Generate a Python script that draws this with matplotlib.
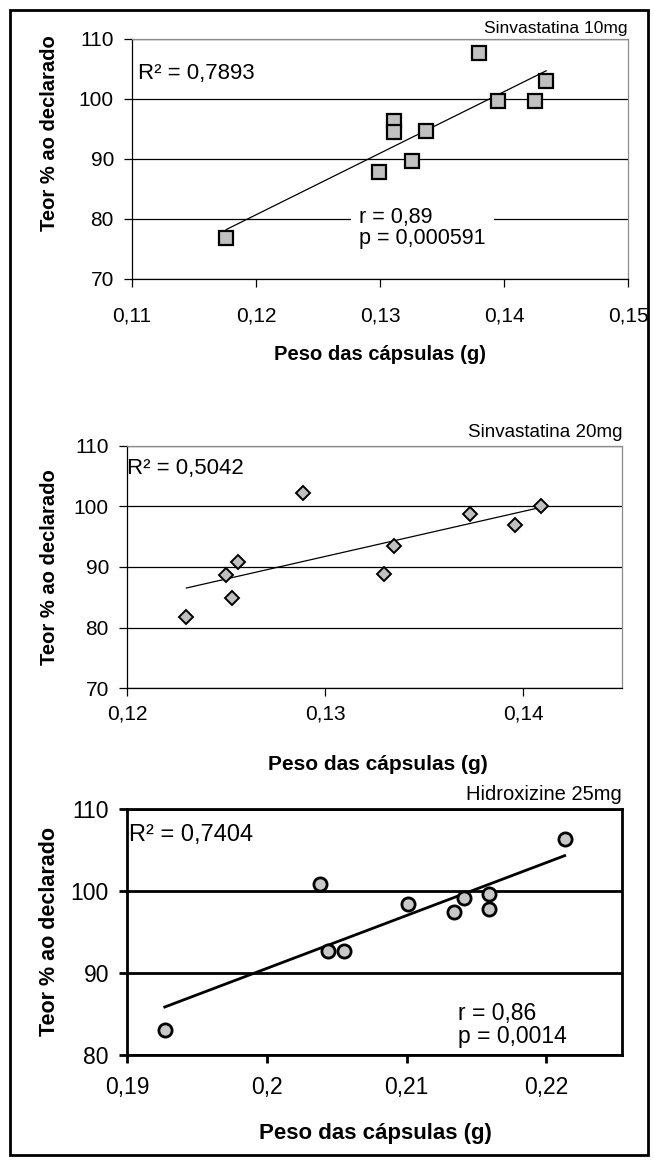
import matplotlib
matplotlib.use("Agg")
import matplotlib.pyplot as plt
import numpy as np
from matplotlib.patches import Rectangle
from matplotlib.ticker import FuncFormatter

plt.rcParams["font.family"] = ["Liberation Sans", "DejaVu Sans"]

# --- data ---
# Sinvastatina 10mg
x10 = [0.1176, 0.1299, 0.1311, 0.1311, 0.1326, 0.1337, 0.1380, 0.1395, 0.1425, 0.1434]
y10 = [76.8, 87.9, 96.3, 94.5, 89.7, 94.7, 107.7, 99.7, 99.7, 103.0]
# Sinvastatina 20mg
x20 = [0.1230, 0.1250, 0.1253, 0.1256, 0.1289, 0.1330, 0.1335, 0.1373, 0.1396, 0.1409]
y20 = [81.7, 88.6, 84.8, 90.9, 102.3, 88.9, 93.5, 98.8, 96.9, 100.0]
# Hidroxizine 25mg
xh = [0.1927, 0.2038, 0.2044, 0.2055, 0.2101, 0.2134, 0.2141, 0.2159, 0.2159, 0.2213]
yh = [83.1, 100.9, 92.7, 92.7, 98.4, 97.5, 99.2, 99.6, 97.8, 106.4]

titles = ["Sinvastatina 10mg", "Sinvastatina 20mg", "Hidroxizine 25mg"]
r2_labels = ["R² = 0,7893", "R² = 0,5042", "R² = 0,7404"]
stats10 = "r = 0,89\np = 0,000591"
statsh = "r = 0,86\np = 0,0014"

xticks10 = [0.11, 0.12, 0.13, 0.14, 0.15]
xticks20 = [0.12, 0.13, 0.14]
xticksh = [0.19, 0.20, 0.21, 0.22]
yticks = [70, 80, 90, 100, 110]
yticksh = [80, 90, 100, 110]

xlabel = "Peso das cápsulas (g)"
ylabel = "Teor % ao declarado"

W, H = 654, 1160
fig = plt.figure(figsize=(W / 100, H / 100), dpi=100)


def box(l, r, t, b):
    return [l / W, (H - b) / H, (r - l) / W, (b - t) / H]


comma = FuncFormatter(lambda v, p: f"{v:g}".replace(".", ","))


def style(ax, thick, tsize, xpad):
    lw = 2.0 if thick else 0.9
    for s in ax.spines.values():
        s.set_linewidth(lw)
        s.set_color("black")
    if not thick:
        ax.spines["top"].set_color("#8c8c8c")
        ax.spines["right"].set_color("#8c8c8c")
    ax.set_axisbelow(True)
    ax.yaxis.grid(True, color="black", linewidth=lw)
    ax.tick_params(direction="out", length=6, width=lw, labelsize=tsize,
                   top=False, right=False)
    ax.tick_params(axis="x", pad=xpad)
    ax.tick_params(axis="y", pad=7)
    ax.xaxis.set_major_formatter(comma)


def fit(ax, x, y, lw):
    m, c = np.polyfit(x, y, 1)
    xs = np.array([min(x), max(x)])
    ax.plot(xs, m * xs + c, color="black", linewidth=lw, zorder=3)


# panel 1
ax1 = fig.add_axes(box(132, 628, 39, 279))
fit(ax1, x10, y10, 0.9)
ax1.plot(x10, y10, ls="none", marker="s", ms=10, mfc="#c0c0c0",
         mec="black", mew=1.6, zorder=4, clip_on=False)
ax1.set_xlim(0.11, 0.15)
ax1.set_ylim(70, 110)
ax1.set_xticks(xticks10)
ax1.set_yticks(yticks)
style(ax1, False, 15, 14)
ax1.text(1.0, 1.025, titles[0], transform=ax1.transAxes, ha="right",
         va="baseline", fontsize=12.5)
ax1.text(0.012, 0.858, r2_labels[0], transform=ax1.transAxes, ha="left",
         va="center", fontsize=16)
ax1.text(0.458, 0.2125, stats10, transform=ax1.transAxes, ha="left",
         va="center", fontsize=15.5, linespacing=1.0, zorder=5,
         bbox=dict(facecolor="white", edgecolor="none", pad=6))

# panel 2
ax2 = fig.add_axes(box(127, 622, 446, 688))
fit(ax2, x20, y20, 0.9)
ax2.plot(x20, y20, ls="none", marker="D", ms=7.5, mfc="#c0c0c0",
         mec="black", mew=1.4, zorder=4, clip_on=False)
ax2.set_xlim(0.12, 0.145)
ax2.set_ylim(70, 110)
ax2.set_xticks(xticks20)
ax2.set_yticks(yticks)
style(ax2, False, 15, 6)
ax2.text(1.0, 1.036, titles[1], transform=ax2.transAxes, ha="right",
         va="baseline", fontsize=13.5)
ax2.text(0.0, 0.909, r2_labels[1], transform=ax2.transAxes, ha="left",
         va="center", fontsize=16)

# panel 3
ax3 = fig.add_axes(box(127, 622, 809, 1055))
fit(ax3, xh, yh, 2.0)
ax3.plot(xh, yh, ls="none", marker="o", ms=9.5, mfc="#c8c8c8",
         mec="black", mew=2.0, zorder=4, clip_on=False)
ax3.set_xlim(0.19, 0.2254)
ax3.set_ylim(80, 110)
ax3.set_xticks(xticksh)
ax3.set_yticks(yticksh)
style(ax3, True, 16.5, 9)
ax3.text(1.0, 1.037, titles[2], transform=ax3.transAxes, ha="right",
         va="baseline", fontsize=14.5)
ax3.text(0.004, 0.894, r2_labels[2], transform=ax3.transAxes, ha="left",
         va="center", fontsize=17)
ax3.text(0.669, 0.123, statsh, transform=ax3.transAxes, ha="left",
         va="center", fontsize=16.5, linespacing=1.0)

# axis labels placed in figure pixels
for (xc, yc, fs) in [(380, 355, 14.5), (378, 765, 15), (375, 1133, 16)]:
    fig.text(xc / W, 1 - yc / H, xlabel, ha="center", va="center",
             fontsize=fs, fontweight="bold")
for (xc, yc, fs) in [(50, 133, 14.5), (50, 567, 14.5), (50, 932, 15.5)]:
    fig.text(xc / W, 1 - yc / H, ylabel, ha="center", va="center",
             rotation=90, fontsize=fs, fontweight="bold")

# outer frame
fig.patches.append(Rectangle((10 / W, 5 / H), 638 / W, 1145 / H,
                             transform=fig.transFigure, fill=False,
                             edgecolor="black", linewidth=2))

fig.savefig("out.png", dpi=100)
